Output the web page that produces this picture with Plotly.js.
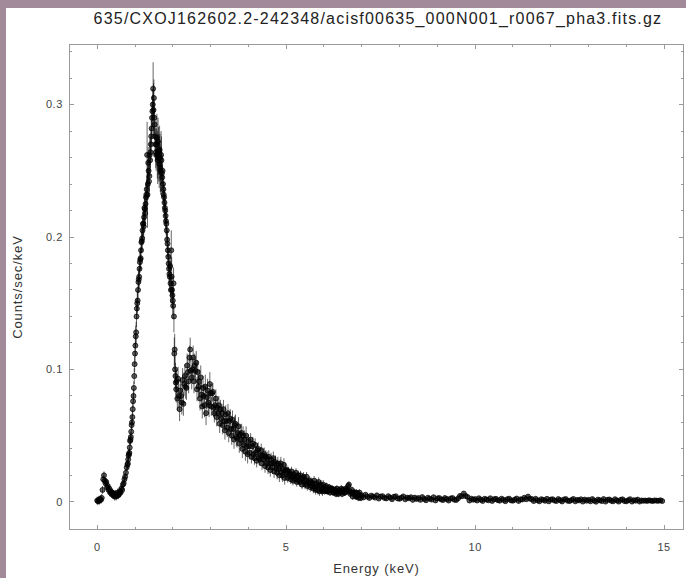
<!DOCTYPE html>
<html>
<head>
<meta charset="utf-8">
<script src="https://cdn.plot.ly/plotly-3.0.1.min.js"></script>
<style>
  html, body { margin: 0; padding: 0; background: #a38a9a; width: 686px; height: 578px; overflow: hidden; }
  #chart { position: absolute; left: 6px; top: 8px; width: 680px; height: 570px; background: #fff; }
  #chart .gtitle { letter-spacing: 1.2px; }
  #chart .xtitle, #chart .ytitle { letter-spacing: 0.9px; }
  #chart .xtick text, #chart .ytick text { letter-spacing: 0.5px; }
</style>
</head>
<body>
<div id="chart"></div>
<script>
// ---- Data ----
const chartTitle = "635/CXOJ162602.2-242348/acisf00635_000N001_r0067_pha3.fits.gz";
const xTitle = "Energy (keV)";
const yTitle = "Counts/sec/keV";
const xTickVals = [0, 5, 10, 15];
const xTickText = ["0", "5", "10", "15"];
const yTickVals = [0, 0.1, 0.2, 0.3];
const yTickText = ["0", "0.1", "0.2", "0.3"];

// Low-energy part (0 - 0.8 keV)
const energyLow = [0.00,0.02,0.04,0.06,0.08,0.10,0.12,0.14,0.16,0.18,0.20,0.22,0.24,0.26,0.28,0.30,0.32,0.34,0.36,0.38,0.40,0.42,0.44,0.46,0.48,0.50,0.52,0.54,0.56,0.58,0.60,0.62,0.64,0.66,0.68,0.70,0.72,0.74,0.76,0.78];
const countsLow = [0.0010,0.0005,0.0015,0.0010,0.0020,0.0015,0.0030,0.0090,0.0170,0.0200,0.0160,0.0140,0.0150,0.0110,0.0120,0.0090,0.0100,0.0070,0.0080,0.0060,0.0070,0.0050,0.0060,0.0040,0.0060,0.0040,0.0050,0.0070,0.0050,0.0060,0.0080,0.0070,0.0100,0.0090,0.0130,0.0140,0.0170,0.0190,0.0220,0.0260];
const errLow = 0.003;

// Main peak (0.8 - 2.1 keV), two interleaved sets of bins
const energyPeak = [0.80,0.82,0.84,0.86,0.88,0.90,0.92,0.94,0.96,0.98,1.00,1.02,1.04,1.06,1.08,1.10,1.12,1.14,1.16,1.18,1.20,1.22,1.24,1.26,1.28,1.30,1.32,1.34,1.36,1.38,1.40,1.42,1.44,1.46,1.48,1.50,1.52,1.54,1.56,1.58,1.60,1.62,1.64,1.66,1.68,1.70,1.72,1.74,1.76,1.78,1.80,1.82,1.84,1.86,1.88,1.90,1.92,1.94,1.96,1.98,2.00,2.02,2.04,2.06,2.08];
const countsPeak = [0.028,0.032,0.036,0.041,0.047,0.053,0.060,0.070,0.080,0.095,0.112,0.125,0.140,0.150,0.160,0.168,0.176,0.183,0.190,0.197,0.205,0.210,0.215,0.221,0.225,0.232,0.262,0.240,0.250,0.246,0.258,0.270,0.282,0.295,0.312,0.305,0.285,0.270,0.262,0.275,0.258,0.265,0.255,0.260,0.250,0.258,0.245,0.240,0.232,0.226,0.220,0.212,0.205,0.195,0.185,0.176,0.170,0.165,0.190,0.160,0.152,0.165,0.112,0.100,0.090];
const energyPeak2 = [0.81,0.83,0.85,0.87,0.89,0.91,0.93,0.95,0.97,0.99,1.01,1.03,1.05,1.07,1.09,1.11,1.13,1.15,1.17,1.19,1.21,1.23,1.25,1.27,1.29,1.31,1.33,1.35,1.37,1.39,1.41,1.43,1.45,1.47,1.49,1.51,1.53,1.55,1.57,1.59,1.61,1.63,1.65,1.67,1.69,1.71,1.73,1.75,1.77,1.79,1.81,1.83,1.85,1.87,1.89,1.91,1.93,1.95,1.97,1.99,2.01,2.03,2.05,2.07,2.09];
const countsPeak2 = [0.029,0.035,0.037,0.046,0.049,0.058,0.064,0.076,0.086,0.104,0.118,0.128,0.146,0.152,0.166,0.170,0.181,0.184,0.196,0.199,0.210,0.208,0.222,0.218,0.230,0.236,0.232,0.256,0.242,0.262,0.264,0.276,0.290,0.300,0.296,0.290,0.276,0.264,0.270,0.262,0.272,0.260,0.266,0.252,0.262,0.248,0.250,0.236,0.230,0.222,0.216,0.210,0.198,0.190,0.180,0.172,0.178,0.160,0.170,0.156,0.148,0.140,0.115,0.095,0.085];
const errPeak = [0.004,0.004,0.004,0.004,0.004,0.004,0.005,0.005,0.005,0.006,0.008,0.008,0.008,0.008,0.008,0.008,0.008,0.008,0.008,0.009,0.009,0.009,0.010,0.010,0.010,0.010,0.025,0.012,0.012,0.012,0.012,0.012,0.012,0.012,0.020,0.014,0.012,0.012,0.012,0.018,0.018,0.018,0.018,0.018,0.018,0.018,0.010,0.010,0.010,0.010,0.010,0.010,0.010,0.010,0.010,0.010,0.010,0.010,0.015,0.010,0.010,0.012,0.012,0.010,0.010];

// Continuum (2.1 - 7 keV)
const energyMid = [2.10,2.12,2.14,2.16,2.18,2.20,2.22,2.24,2.26,2.28,2.30,2.32,2.34,2.36,2.38,2.40,2.42,2.44,2.46,2.48,2.50,2.52,2.54,2.56,2.58,2.60,2.62,2.64,2.66,2.68,2.70,2.72,2.74,2.76,2.78,2.80,2.82,2.84,2.86,2.88,2.90,2.92,2.94,2.96,2.98,3.00,3.02,3.04,3.06,3.08,3.10,3.12,3.14,3.16,3.18,3.20,3.22,3.24,3.26,3.28,3.30,3.32,3.34,3.36,3.38,3.40,3.42,3.44,3.46,3.48,3.50,3.52,3.54,3.56,3.58,3.60,3.62,3.64,3.66,3.68,3.70,3.72,3.74,3.76,3.78,3.80,3.82,3.84,3.86,3.88,3.90,3.92,3.94,3.96,3.98,4.00,4.02,4.04,4.06,4.08,4.10,4.12,4.14,4.16,4.18,4.20,4.22,4.24,4.26,4.28,4.30,4.32,4.34,4.36,4.38,4.40,4.42,4.44,4.46,4.48,4.50,4.52,4.54,4.56,4.58,4.60,4.62,4.64,4.66,4.68,4.70,4.72,4.74,4.76,4.78,4.80,4.82,4.84,4.86,4.88,4.90,4.92,4.94,4.96,4.98,5.00,5.02,5.04,5.06,5.08,5.10,5.12,5.14,5.16,5.18,5.20,5.22,5.24,5.26,5.28,5.30,5.32,5.34,5.36,5.38,5.40,5.42,5.44,5.46,5.48,5.50,5.52,5.54,5.56,5.58,5.60,5.62,5.64,5.66,5.68,5.70,5.72,5.74,5.76,5.78,5.80,5.82,5.84,5.86,5.88,5.90,5.92,5.94,5.96,5.98,6.00,6.02,6.04,6.06,6.08,6.10,6.12,6.14,6.16,6.18,6.20,6.22,6.24,6.26,6.28,6.30,6.32,6.34,6.36,6.38,6.40,6.42,6.44,6.46,6.48,6.50,6.52,6.54,6.56,6.58,6.60,6.62,6.64,6.66,6.68,6.70,6.72,6.74,6.76,6.78,6.80,6.82,6.84,6.86,6.88,6.90,6.92,6.94,6.96,6.98];
const countsMid = [0.091,0.078,0.093,0.080,0.070,0.084,0.080,0.075,0.092,0.074,0.089,0.095,0.087,0.086,0.103,0.098,0.091,0.109,0.115,0.099,0.094,0.100,0.109,0.091,0.103,0.099,0.105,0.085,0.098,0.087,0.091,0.078,0.094,0.081,0.072,0.086,0.080,0.073,0.087,0.067,0.079,0.084,0.075,0.073,0.089,0.082,0.072,0.082,0.083,0.071,0.067,0.073,0.078,0.064,0.071,0.067,0.073,0.059,0.070,0.063,0.067,0.058,0.070,0.061,0.054,0.066,0.061,0.056,0.067,0.052,0.061,0.063,0.055,0.050,0.062,0.055,0.047,0.058,0.059,0.049,0.048,0.052,0.057,0.044,0.051,0.047,0.052,0.040,0.050,0.043,0.047,0.038,0.050,0.042,0.036,0.046,0.042,0.037,0.047,0.034,0.042,0.044,0.036,0.033,0.043,0.037,0.031,0.039,0.040,0.033,0.032,0.035,0.039,0.029,0.035,0.032,0.036,0.027,0.034,0.029,0.033,0.026,0.034,0.029,0.024,0.032,0.029,0.026,0.033,0.023,0.029,0.030,0.025,0.022,0.029,0.025,0.020,0.027,0.029,0.022,0.020,0.024,0.028,0.018,0.024,0.022,0.024,0.018,0.023,0.020,0.021,0.017,0.023,0.019,0.016,0.021,0.019,0.017,0.022,0.015,0.019,0.020,0.016,0.015,0.020,0.017,0.013,0.018,0.019,0.015,0.013,0.016,0.019,0.012,0.015,0.014,0.016,0.011,0.015,0.012,0.014,0.010,0.016,0.011,0.009,0.014,0.012,0.009,0.015,0.008,0.012,0.013,0.009,0.008,0.013,0.010,0.008,0.011,0.012,0.008,0.008,0.009,0.011,0.007,0.010,0.009,0.010,0.007,0.009,0.007,0.009,0.006,0.010,0.008,0.006,0.009,0.008,0.007,0.010,0.006,0.009,0.009,0.007,0.007,0.010,0.009,0.008,0.012,0.013,0.008,0.006,0.007,0.009,0.004,0.007,0.006,0.007,0.004,0.007,0.004,0.006,0.003,0.007,0.005,0.003];
// error-bar size read per energy band (band upper edges in keV)
const errMidBandEdges = [3.0, 4.0, 5.0, 6.0, 7.1];
const errMidBandValues = [0.009, 0.007, 0.005, 0.0035, 0.0025];

// Hard tail (7 - 15 keV)
const energyHigh = [7.00,7.05,7.10,7.15,7.20,7.25,7.30,7.35,7.40,7.45,7.50,7.55,7.60,7.65,7.70,7.75,7.80,7.85,7.90,7.95,8.00,8.05,8.10,8.15,8.20,8.25,8.30,8.35,8.40,8.45,8.50,8.55,8.60,8.65,8.70,8.75,8.80,8.85,8.90,8.95,9.00,9.05,9.10,9.15,9.20,9.25,9.30,9.35,9.40,9.45,9.50,9.55,9.60,9.65,9.70,9.75,9.80,9.85,9.90,9.95,10.00,10.05,10.10,10.15,10.20,10.25,10.30,10.35,10.40,10.45,10.50,10.55,10.60,10.65,10.70,10.75,10.80,10.85,10.90,10.95,11.00,11.05,11.10,11.15,11.20,11.25,11.30,11.35,11.40,11.45,11.50,11.55,11.60,11.65,11.70,11.75,11.80,11.85,11.90,11.95,12.00,12.05,12.10,12.15,12.20,12.25,12.30,12.35,12.40,12.45,12.50,12.55,12.60,12.65,12.70,12.75,12.80,12.85,12.90,12.95,13.00,13.05,13.10,13.15,13.20,13.25,13.30,13.35,13.40,13.45,13.50,13.55,13.60,13.65,13.70,13.75,13.80,13.85,13.90,13.95,14.00,14.05,14.10,14.15,14.20,14.25,14.30,14.35,14.40,14.45,14.50,14.55,14.60,14.65,14.70,14.75,14.80,14.85,14.90,14.95];
const countsHigh = [0.0049,0.0034,0.0054,0.0040,0.0029,0.0047,0.0040,0.0032,0.0049,0.0025,0.0040,0.0043,0.0030,0.0026,0.0043,0.0033,0.0020,0.0038,0.0042,0.0026,0.0023,0.0032,0.0041,0.0019,0.0032,0.0027,0.0035,0.0015,0.0032,0.0022,0.0029,0.0015,0.0036,0.0022,0.0012,0.0031,0.0024,0.0017,0.0035,0.0011,0.0026,0.0029,0.0018,0.0014,0.0029,0.0021,0.0010,0.0025,0.0029,0.0016,0.0014,0.0027,0.0045,0.0042,0.0063,0.0044,0.0037,0.0010,0.0024,0.0016,0.0021,0.0010,0.0027,0.0016,0.0007,0.0023,0.0018,0.0012,0.0027,0.0007,0.0020,0.0023,0.0013,0.0009,0.0024,0.0015,0.0005,0.0020,0.0024,0.0011,0.0009,0.0017,0.0025,0.0007,0.0019,0.0018,0.0031,0.0020,0.0040,0.0023,0.0021,0.0006,0.0023,0.0012,0.0004,0.0020,0.0015,0.0008,0.0023,0.0004,0.0017,0.0020,0.0010,0.0006,0.0021,0.0013,0.0003,0.0018,0.0021,0.0008,0.0006,0.0014,0.0022,0.0004,0.0015,0.0011,0.0019,0.0002,0.0017,0.0009,0.0015,0.0004,0.0021,0.0009,0.0001,0.0017,0.0012,0.0006,0.0021,0.0002,0.0015,0.0018,0.0008,0.0004,0.0020,0.0011,0.0002,0.0015,0.0019,0.0006,0.0004,0.0012,0.0020,0.0002,0.0013,0.0009,0.0017,0.0002,0.00105,0.0008,0.0010,0.0007,0.0012,0.00085,0.0006,0.0011,0.0009,0.00075,0.0012,0.0006];
const errHigh = 0.0015;

// ---- Build traces ----
const errMid = energyMid.map(e => {
  for (let i = 0; i < errMidBandEdges.length; i++) if (e < errMidBandEdges[i]) return errMidBandValues[i];
  return errMidBandValues[errMidBandValues.length - 1];
});

const markerStyle = { symbol: 'circle', size: 5, color: 'rgba(0,0,0,0.6)', line: { width: 0.8, color: 'rgba(0,0,0,0.9)' } };
const errStyle = { color: 'rgba(0,0,0,0.6)', thickness: 1, width: 0 };

function makeTrace(x, y, err) {
  const e = Array.isArray(err)
    ? Object.assign({ type: 'data', array: err, visible: true }, errStyle)
    : Object.assign({ type: 'constant', value: err, visible: true }, errStyle);
  return { type: 'scatter', mode: 'markers', x: x, y: y, marker: markerStyle, error_y: e, hoverinfo: 'x+y', showlegend: false };
}

const traces = [
  makeTrace(energyLow, countsLow, errLow),
  makeTrace(energyPeak, countsPeak, errPeak),
  makeTrace(energyPeak2, countsPeak2, errPeak),
  makeTrace(energyMid, countsMid, errMid),
  makeTrace(energyHigh, countsHigh, errHigh)
];

const axisCommon = {
  showline: true, linecolor: '#9a9a9a', linewidth: 1, mirror: 'ticks',
  ticks: 'inside', ticklen: 4, tickcolor: '#9a9a9a', tickwidth: 1,
  showgrid: false, zeroline: false,
  tickfont: { family: 'Liberation Sans, Arial, sans-serif', size: 11, color: '#444' }
};

const layout = {
  width: 680, height: 570,
  margin: { l: 64, r: 3, t: 37, b: 49 },
  paper_bgcolor: '#ffffff', plot_bgcolor: '#ffffff',
  font: { family: 'Liberation Sans, Arial, sans-serif', color: '#333' },
  title: { text: chartTitle, font: { size: 16, color: '#222' }, x: 0.547, xanchor: 'center', y: 0.981, yanchor: 'middle', yref: 'container' },
  xaxis: Object.assign({}, axisCommon, {
    range: [-0.72, 15.5], tickmode: 'array', tickvals: xTickVals, ticktext: xTickText,
    minor: { dtick: 1, tick0: 0, ticks: 'inside', ticklen: 2, tickcolor: '#9a9a9a', showgrid: false },
    ticklabelstandoff: 8,
    title: { text: xTitle, font: { size: 13, color: '#333' }, standoff: 11 }
  }),
  yaxis: Object.assign({}, axisCommon, {
    range: [-0.0205, 0.345], tickmode: 'array', tickvals: yTickVals, ticktext: yTickText,
    minor: { dtick: 0.02, tick0: 0, ticks: 'inside', ticklen: 2, tickcolor: '#9a9a9a', showgrid: false },
    ticklabelstandoff: 4,
    title: { text: yTitle, font: { size: 13, color: '#333' }, standoff: 21 }
  })
};

Plotly.newPlot('chart', traces, layout, { displayModeBar: false, staticPlot: true });
</script>
</body>
</html>
